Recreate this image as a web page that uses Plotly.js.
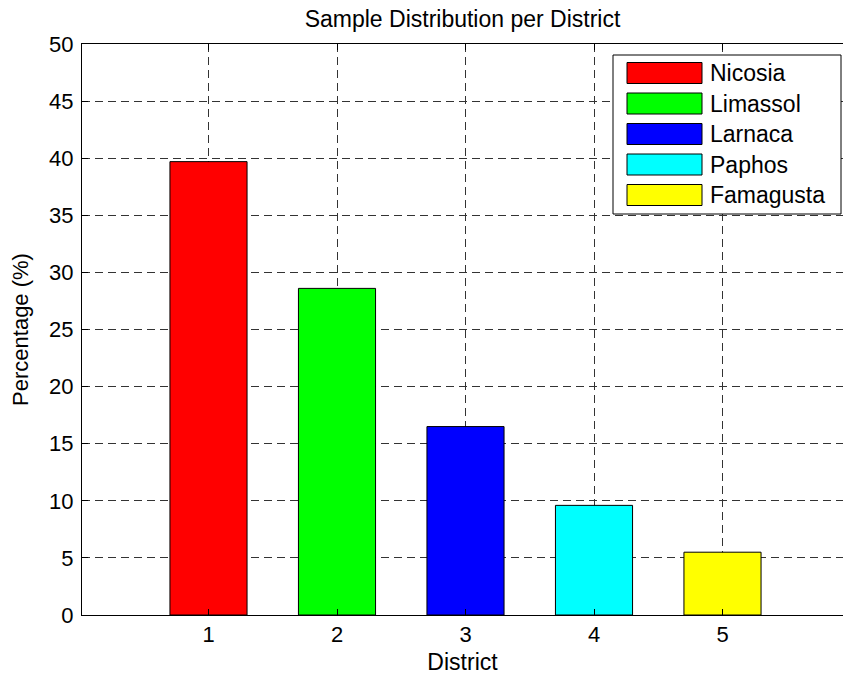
<!DOCTYPE html>
<html>
<head>
<meta charset="utf-8">
<script src="https://cdn.plot.ly/plotly-3.0.1.min.js"></script>
<style>
  html, body { margin: 0; padding: 0; background: #fff; }
  #chart { width: 843px; height: 682px; }
</style>
</head>
<body>
<div id="chart"></div>
<script>
// ---- data ----
const districts = [1, 2, 3, 4, 5];
const districtNames = ["Nicosia", "Limassol", "Larnaca", "Paphos", "Famagusta"];
const percentages = [39.7, 28.6, 16.5, 9.6, 5.5];
const barColors = ["#ff0000", "#00ff00", "#0000ff", "#00ffff", "#ffff00"];
const yTicks = [0, 5, 10, 15, 20, 25, 30, 35, 40, 45, 50];

// ---- geometry ----
const W = 843, H = 682;
const M = { l: 82, r: 0, t: 44, b: 67 };
const plotW = W - M.l - M.r, plotH = H - M.t - M.b;
const px2x = px => (px - M.l) / plotW;
const py2y = py => (H - M.b - py) / plotH;
const unitPx = 128.5;
const xStart = 2 / unitPx;

const FONT = "Liberation Sans, Arial, Helvetica, sans-serif";

const traces = districts.map((d, i) => ({
  type: "bar",
  x: [d],
  y: [percentages[i]],
  name: districtNames[i],
  width: 0.6,
  marker: { color: barColors[i], line: { color: "#000", width: 1 } },
  showlegend: false,
  hoverinfo: "x+y+name"
}));

// custom MATLAB-style legend
const shapes = [{
  type: "rect", xref: "paper", yref: "paper", layer: "above",
  x0: px2x(613), x1: px2x(841), y0: py2y(214), y1: py2y(55),
  fillcolor: "#fff", line: { color: "#000", width: 1 }
}];
const annotations = [];
const rowTop = 73, rowStep = 30.5, swH = 21;
districtNames.forEach((n, i) => {
  const cy = rowTop + i * rowStep;
  shapes.push({
    type: "rect", xref: "paper", yref: "paper", layer: "above",
    x0: px2x(627), x1: px2x(702), y0: py2y(cy + swH / 2), y1: py2y(cy - swH / 2),
    fillcolor: barColors[i], line: { color: "#000", width: 1 }
  });
  annotations.push({
    xref: "paper", yref: "paper", x: px2x(708), y: py2y(cy),
    xanchor: "left", yanchor: "middle", showarrow: false,
    text: n, font: { family: FONT, size: 23, color: "#000" }
  });
});

const layout = {
  width: W, height: H,
  margin: M,
  paper_bgcolor: "#fff", plot_bgcolor: "#fff",
  font: { family: FONT, size: 22, color: "#000" },
  title: {
    text: "Sample Distribution per District",
    font: { family: FONT, size: 23, color: "#000" },
    x: 0.5, xref: "paper", xanchor: "center",
    y: 1 - 19 / H, yref: "container", yanchor: "middle"
  },
  barmode: "overlay",
  xaxis: {
    range: [xStart, xStart + plotW / unitPx],
    tickmode: "array", tickvals: districts, ticktext: districts.map(String),
    ticks: "inside", ticklen: 6, tickcolor: "#000",
    showline: true, linecolor: "#000", linewidth: 1, mirror: "allticks",
    showgrid: true, gridcolor: "#333", gridwidth: 1, griddash: "8px,5px",
    zeroline: false,
    tickfont: { family: FONT, size: 22, color: "#000" },
    title: { text: "District", font: { family: FONT, size: 23, color: "#000" }, standoff: 7 }
  },
  yaxis: {
    range: [0, 50],
    tickmode: "array", tickvals: yTicks,
    ticks: "inside", ticklen: 6, tickcolor: "#000",
    showline: true, linecolor: "#000", linewidth: 1, mirror: false,
    showgrid: true, gridcolor: "#333", gridwidth: 1, griddash: "8px,5px",
    zeroline: false,
    ticklabelstandoff: 3,
    tickfont: { family: FONT, size: 22, color: "#000" },
    title: { text: "Percentage (%)", font: { family: FONT, size: 22, color: "#000" }, standoff: 14 }
  },
  shapes: shapes,
  annotations: annotations,
  showlegend: false
};

Plotly.newPlot("chart", traces, layout, { displayModeBar: false, staticPlot: true });
</script>
</body>
</html>
